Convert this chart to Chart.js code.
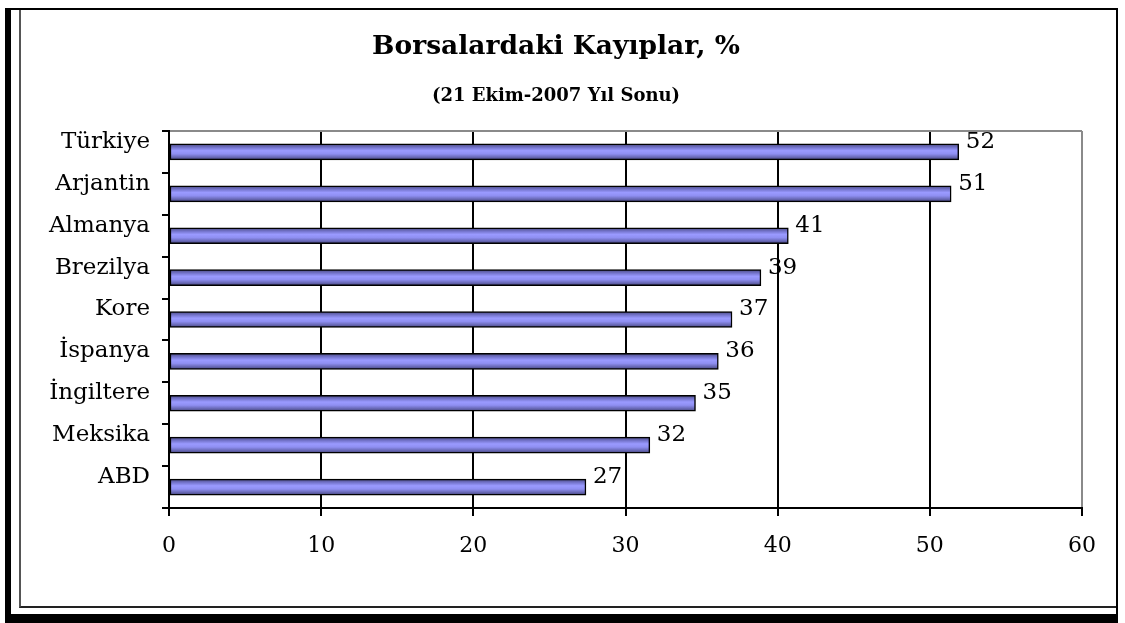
<!DOCTYPE html>
<html>
<head>
<meta charset="utf-8">
<script src="https://cdn.jsdelivr.net/npm/chart.js@4"></script>
<style>
  html, body { margin: 0; padding: 0; background: #fff; }
  body { width: 1125px; height: 623px; position: relative; overflow: hidden; }
  #frame { position: absolute; left: 5px; top: 8px; width: 1105px; height: 604px;
           border-left: 6px solid #000; border-top: 2px solid #000; border-right: 2px solid #000; border-bottom: 11px solid #000; }
  #inner { position: absolute; left: 19px; top: 10px; width: 1095px; height: 596px;
           border-left: 2px solid #555; border-bottom: 2px solid #222; }
  #wrap { position: absolute; left: 15px; top: 10px; width: 1082px; height: 596px; }
</style>
</head>
<body>
<div id="frame"></div>
<div id="inner"></div>
<div id="wrap"><canvas id="c"></canvas></div>
<script>
// Borsalardaki kayıplar (21 Ekim - 2007 yıl sonu), %
var countries = ['Türkiye', 'Arjantin', 'Almanya', 'Brezilya', 'Kore', 'İspanya', 'İngiltere', 'Meksika', 'ABD'];
var losses = [51.9, 51.4, 40.7, 38.9, 37.0, 36.1, 34.6, 31.6, 27.4];
var xMin = 0, xMax = 60, xStep = 10;

var serif = "'DejaVu Serif', 'Liberation Serif', serif";

function barFill(ctx) {
    var chart = ctx.chart;
    if (!chart.chartArea || ctx.dataIndex === undefined) return '#9999ff';
    var yc = chart.scales.y.getPixelForValue(ctx.dataIndex);
    var g = chart.ctx.createLinearGradient(0, yc - 8, 0, yc + 8);
    g.addColorStop(0, '#4a4a80');
    g.addColorStop(0.22, '#7474cc');
    g.addColorStop(0.42, '#9a9aff');
    g.addColorStop(0.62, '#8f8ff2');
    g.addColorStop(0.82, '#6a6ab8');
    g.addColorStop(1, '#44447a');
    return g;
}

var valueLabels = {
    id: 'valueLabels',
    afterDatasetsDraw: function(chart) {
        var c = chart.ctx;
        var meta = chart.getDatasetMeta(0);
        c.save();
        c.font = '23px ' + serif;
        c.fillStyle = '#000';
        c.textAlign = 'left';
        c.textBaseline = 'middle';
        meta.data.forEach(function(bar, i) {
            c.fillText(String(Math.round(losses[i])), bar.x + 7, bar.y - 10);
        });
        c.restore();
    }
};

new Chart(document.getElementById('c').getContext('2d'), {
    type: 'bar',
    data: {
        labels: countries,
        datasets: [{
            data: losses,
            backgroundColor: barFill,
            borderColor: '#000',
            borderWidth: 1.5,
            borderSkipped: false,
            barThickness: 16
        }]
    },
    options: {
        indexAxis: 'y',
        responsive: true,
        maintainAspectRatio: false,
        animation: false,
        layout: { padding: { left: 0, right: 0, top: 0, bottom: 48 } },
        scales: {
            x: {
                min: xMin, max: xMax,
                afterFit: function(s) { s.height = 50; },
                // small padding keeps the plot wide; the tall line height pushes the labels down
                ticks: { stepSize: xStep, color: '#000', padding: 1, font: { family: serif, size: 22, lineHeight: 2.65 } },
                grid: {
                    color: function(ctx) { return ctx.tick && ctx.tick.value === xMax ? '#8a8a8a' : '#000'; },
                    lineWidth: 2,
                    tickColor: '#000',
                    tickLength: 8
                },
                border: { color: '#000', width: 2 }
            },
            y: {
                afterFit: function(s) { s.width = 154; },
                ticks: { color: '#000', padding: 12, labelOffset: -10, font: { family: serif, size: 23 } },
                grid: {
                    offset: true,
                    color: function(ctx) { return ctx.index === 0 ? '#8a8a8a' : 'rgba(0,0,0,0)'; },
                    lineWidth: 2,
                    tickColor: '#000',
                    tickLength: 7
                },
                border: { color: '#000', width: 2 }
            }
        },
        plugins: {
            legend: { display: false },
            tooltip: { enabled: false },
            title: {
                display: true,
                text: 'Borsalardaki Kayıplar, %',
                color: '#000',
                font: { family: serif, size: 26.5, weight: 'bold', lineHeight: 1.2 },
                padding: { top: 21, bottom: 0 }
            },
            subtitle: {
                display: true,
                text: '(21 Ekim-2007 Yıl Sonu)',
                color: '#000',
                font: { family: serif, size: 18, weight: 'bold', lineHeight: 1.2 },
                padding: { top: 22.4, bottom: 24.2 }
            }
        }
    },
    plugins: [valueLabels]
});
</script>
</body>
</html>
